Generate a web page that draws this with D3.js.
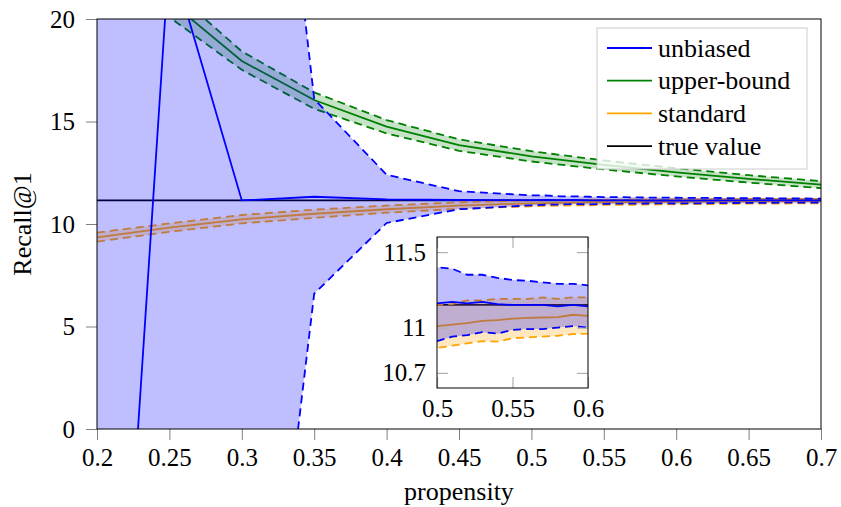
<!DOCTYPE html>
<html>
<head>
<meta charset="utf-8">
<script src="https://cdn.jsdelivr.net/npm/d3@7"></script>
<style>
  body { margin: 0; background: #fff; }
  svg text { font-family: "Liberation Serif", "Times New Roman", serif !important; fill: #000; }
</style>
</head>
<body>
<div id="chart"></div>
<script>
// propensity grid (dense between 0.5 and 0.6 for the zoomed inset)
const propensity = [0.2, 0.25, 0.3, 0.35, 0.4, 0.45, 0.5, 0.51, 0.52, 0.53, 0.54, 0.55, 0.56, 0.57, 0.58, 0.59, 0.6, 0.65, 0.7];
const propensityCoarse = [0.2, 0.25, 0.3, 0.35, 0.4, 0.45, 0.5, 0.55, 0.6, 0.65, 0.7];

const unbiasedMean  = [-30.3, 23.2, 11.15, 11.33, 11.2, 11.17, 11.16, 11.17, 11.16, 11.17, 11.155, 11.15, 11.15, 11.15, 11.14, 11.15, 11.14, 11.15, 11.15];
const unbiasedUpper = [50, 77, 47, 16.1, 12.4, 11.6, 11.4, 11.39, 11.35, 11.35, 11.33, 11.315, 11.31, 11.3, 11.29, 11.29, 11.28, 11.26, 11.24];
const unbiasedLower = [-110, -31, -23, 6.6, 10.05, 10.72, 10.91, 10.94, 10.95, 10.97, 10.96, 10.985, 10.99, 10.99, 11.0, 11.01, 11.0, 11.03, 11.05];

const upperBoundMean  = [26, 20.88, 17.95, 16.05, 14.75, 13.85, 13.3, 12.88, 12.52, 12.2, 11.92];
const upperBoundUpper = [27, 21.53, 18.42, 16.42, 15.07, 14.13, 13.55, 13.1, 12.72, 12.38, 12.09];
const upperBoundLower = [25, 20.09, 17.52, 15.62, 14.42, 13.57, 13.05, 12.66, 12.32, 12.02, 11.75];

const standardMean  = [9.35, 9.82, 10.23, 10.5, 10.72, 10.9, 11.01, 11.02, 11.03, 11.045, 11.05, 11.06, 11.065, 11.067, 11.07, 11.085, 11.078, 11.1, 11.12];
const standardUpper = [9.58, 10.03, 10.44, 10.7, 10.9, 11.06, 11.15, 11.155, 11.18, 11.18, 11.19, 11.19, 11.19, 11.2, 11.19, 11.2, 11.2, 11.22, 11.23];
const standardLower = [9.14, 9.62, 10.03, 10.3, 10.55, 10.74, 10.865, 10.88, 10.896, 10.91, 10.907, 10.93, 10.935, 10.94, 10.946, 10.957, 10.96, 10.99, 11.01];

const trueValue = 11.15;

const xTicks = [0.2, 0.25, 0.3, 0.35, 0.4, 0.45, 0.5, 0.55, 0.6, 0.65, 0.7];
const yTicks = [0, 5, 10, 15, 20];
const insetXTicks = [0.5, 0.55, 0.6];
const insetYTicks = [10.7, 11, 11.5];

const legendNames = ["unbiased", "upper-bound", "standard", "true value"];
const legendColors = ["#0000ff", "#008000", "#ffa500", "#000000"];

const width = 841, height = 507;
const serif = "'Liberation Serif', 'Times New Roman', serif";

const svg = d3.select("#chart").append("svg")
    .attr("width", width)
    .attr("height", height);

const x = d3.scaleLinear().domain([0.2, 0.7]).range([97, 821]);
const y = d3.scaleLinear().domain([0, 20]).range([429, 19]);

const fmt = d => String(+d.toFixed(2));

// build the series rows from the arrays
function rows(xs, mean, upper, lower) {
    return xs.map((p, i) => ({p, m: mean[i], u: upper[i], l: lower[i]}));
}
const unbiased = rows(propensity, unbiasedMean, unbiasedUpper, unbiasedLower);
const upperBound = rows(propensityCoarse, upperBoundMean, upperBoundUpper, upperBoundLower);
const standard = rows(propensity, standardMean, standardUpper, standardLower);

const defs = svg.append("defs");

// draws all series into a group with given scales
function drawSeries(g, xs, ys, withGreen) {
    const line = key => d3.line().x(d => xs(d.p)).y(d => ys(d[key]));
    const area = d3.area().x(d => xs(d.p)).y0(d => ys(d.l)).y1(d => ys(d.u));

    // true value
    g.append("path")
        .datum(propensity)
        .attr("d", d3.line().x(p => xs(p)).y(() => ys(trueValue)))
        .attr("fill", "none").attr("stroke", "#000").attr("stroke-width", 1.8);

    const series = [];
    if (withGreen) series.push([upperBound, "#008000", 0.22]);
    series.push([standard, "#ffa500", 0.25]);
    series.push([unbiased, "#0000ff", 0.25]);

    series.forEach(([data, color, op]) => {
        g.append("path").datum(data).attr("d", line("m"))
            .attr("fill", "none").attr("stroke", color).attr("stroke-width", 1.8);
        ["u", "l"].forEach(k => {
            g.append("path").datum(data).attr("d", line(k))
                .attr("fill", "none").attr("stroke", color).attr("stroke-width", 1.8)
                .attr("stroke-dasharray", "8,5");
        });
        g.append("path").datum(data).attr("d", area)
            .attr("fill", color).attr("fill-opacity", op);
    });
}

// main plot
defs.append("clipPath").attr("id", "clipMain")
    .append("rect").attr("x", 97).attr("y", 19).attr("width", 724).attr("height", 410);

const plot = svg.append("g").attr("clip-path", "url(#clipMain)");
drawSeries(plot, x, y, true);

// X Axis
const xAxis = svg.append("g")
    .attr("transform", "translate(0,429)")
    .call(d3.axisBottom(x).tickValues(xTicks).tickFormat(fmt).tickSize(11).tickPadding(8));
xAxis.attr("font-family", null).attr("font-size", null);
xAxis.select(".domain").remove();
xAxis.selectAll("line").attr("stroke", "#808080");
xAxis.selectAll("text").style("font-size", "25px").style("font-family", serif);

// Y Axis
const yAxis = svg.append("g")
    .attr("transform", "translate(97,0)")
    .call(d3.axisLeft(y).tickValues(yTicks).tickSize(11).tickPadding(11));
yAxis.attr("font-family", null).attr("font-size", null);
yAxis.select(".domain").remove();
yAxis.selectAll("line").attr("stroke", "#808080");
yAxis.selectAll("text").style("font-size", "25px").style("font-family", serif);

// frame
svg.append("rect")
    .attr("x", 97).attr("y", 19).attr("width", 724).attr("height", 410)
    .attr("fill", "none").attr("stroke", "#000").attr("stroke-width", 1);

// axis labels
svg.append("text")
    .attr("x", 459).attr("y", 500)
    .attr("text-anchor", "middle")
    .style("font-size", "26px")
    .text("propensity");

svg.append("text")
    .attr("transform", "translate(31,224) rotate(-90)")
    .attr("text-anchor", "middle")
    .style("font-size", "26px")
    .text("Recall@1");

// inset
const ix = d3.scaleLinear().domain([0.5, 0.6]).range([437, 588]);
const iy = d3.scaleLinear().domain([10.6, 11.6]).range([388, 237]);

svg.append("rect")
    .attr("x", 437).attr("y", 237).attr("width", 151).attr("height", 151)
    .attr("fill", "#fff");

defs.append("clipPath").attr("id", "clipInset")
    .append("rect").attr("x", 437).attr("y", 237).attr("width", 151).attr("height", 151);

const inset = svg.append("g").attr("clip-path", "url(#clipInset)");
drawSeries(inset, ix, iy, false);

const insetAxes = [
    [d3.axisBottom(ix).tickValues(insetXTicks).tickFormat(fmt), "translate(0,388)", true],
    [d3.axisTop(ix).tickValues(insetXTicks), "translate(0,237)", false],
    [d3.axisLeft(iy).tickValues(insetYTicks).tickFormat(fmt), "translate(437,0)", true],
    [d3.axisRight(iy).tickValues(insetYTicks), "translate(588,0)", false]
];
insetAxes.forEach(([axis, tr, labels]) => {
    const g = svg.append("g").attr("transform", tr)
        .call(axis.tickSize(-11).tickPadding(labels ? 11 : 0));
    g.attr("font-family", null).attr("font-size", null);
    g.select(".domain").remove();
    g.selectAll("line").attr("stroke", "#b0b0b0").attr("stroke-width", 1.2);
    if (labels) g.selectAll("text").style("font-size", "25px").style("font-family", serif);
    else g.selectAll("text").remove();
});

svg.append("rect")
    .attr("x", 437).attr("y", 237).attr("width", 151).attr("height", 151)
    .attr("fill", "none").attr("stroke", "#000").attr("stroke-width", 1);

// legend
const legend = svg.append("g");
legend.append("rect")
    .attr("x", 597).attr("y", 28).attr("width", 210).attr("height", 141)
    .attr("fill", "#fff").attr("fill-opacity", 0.8)
    .attr("stroke", "#cccccc").attr("stroke-width", 1);

legendNames.forEach((name, i) => {
    const cy = 48 + i * 32.7;
    legend.append("line")
        .attr("x1", 607).attr("x2", 652)
        .attr("y1", cy).attr("y2", cy)
        .attr("stroke", legendColors[i]).attr("stroke-width", 1.8);
    legend.append("text")
        .attr("x", 658).attr("y", cy)
        .attr("dy", "0.33em")
        .style("font-size", "26px")
        .text(name);
});
</script>
</body>
</html>
